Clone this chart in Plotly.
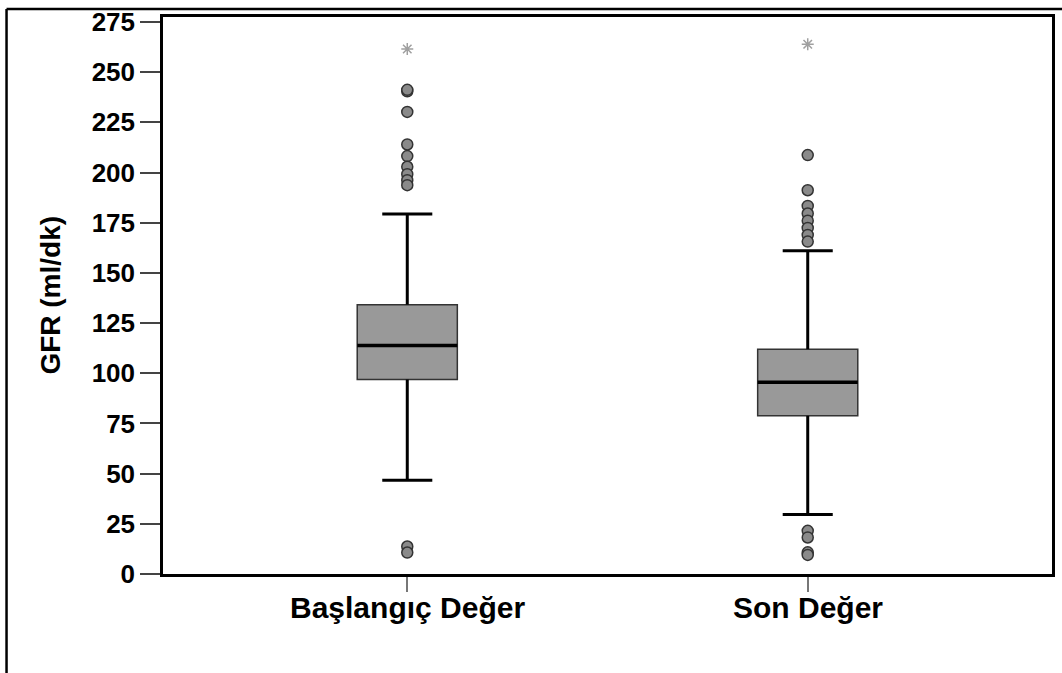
import plotly.graph_objects as go

# GFR (ml/dk) distribution, baseline vs. final
categories = ["Başlangıç Değer", "Son Değer"]
q1 = [96.9, 78.8]
median = [113.9, 95.5]
q3 = [134.2, 112.0]
lower_whisker = [46.7, 29.7]
upper_whisker = [179.4, 161.1]
outliers = [
    [240.5, 241.2, 230.2, 214.0, 208.2, 202.9, 199.2, 196.2, 193.7, 13.7, 10.7],
    [208.7, 191.2, 183.4, 179.6, 176.0, 172.4, 168.9, 165.6, 21.5, 18.2, 10.8, 9.5],
]
extremes = [[261.6], [263.9]]
y_ticks = [0, 25, 50, 75, 100, 125, 150, 175, 200, 225, 250, 275]

FONT = "Liberation Sans, Arial, sans-serif"
BOX_W = 0.25
CAP_HALF = 0.0625

fig = go.Figure()

for i, name in enumerate(categories):
    fig.add_trace(go.Box(
        x=[i], q1=[q1[i]], median=[median[i]], q3=[q3[i]],
        lowerfence=[q1[i]], upperfence=[q3[i]],
        width=BOX_W, fillcolor="#999999",
        line=dict(color="#333333", width=1.5),
        boxpoints=False, showlegend=False, name=name,
    ))
    # whiskers with caps
    fig.add_trace(go.Scatter(
        x=[i, i, None, i - CAP_HALF, i + CAP_HALF, None,
           i, i, None, i - CAP_HALF, i + CAP_HALF],
        y=[q3[i], upper_whisker[i], None, upper_whisker[i], upper_whisker[i], None,
           q1[i], lower_whisker[i], None, lower_whisker[i], lower_whisker[i]],
        mode="lines", line=dict(color="black", width=3),
        showlegend=False, hoverinfo="skip",
    ))
    # median bar
    fig.add_trace(go.Scatter(
        x=[i - BOX_W / 2, i + BOX_W / 2], y=[median[i], median[i]],
        mode="lines", line=dict(color="black", width=3.5),
        showlegend=False, hoverinfo="skip",
    ))
    # outliers
    fig.add_trace(go.Scatter(
        x=[i] * len(outliers[i]), y=outliers[i], mode="markers",
        marker=dict(symbol="circle", size=11, color="#8a8a8a",
                    line=dict(color="#333333", width=1.5)),
        showlegend=False,
    ))
    # extreme values
    fig.add_trace(go.Scatter(
        x=[i] * len(extremes[i]), y=extremes[i], mode="markers",
        marker=dict(symbol="asterisk-open", size=10, color="#a0a0a0",
                    line=dict(color="#a0a0a0", width=1.5)),
        showlegend=False,
    ))
    # category label under each box
    fig.add_annotation(
        text=name, showarrow=False, xref="x", yref="paper",
        x=i, y=-0.061, xanchor="center", yanchor="middle",
        font=dict(family=FONT, size=30, color="black", weight="bold"),
    )

fig.update_xaxes(
    range=[-0.61, 1.61], tickvals=[0, 1], showticklabels=False,
    ticks="outside", ticklen=15, tickwidth=2, tickcolor="#777777",
    showline=True, mirror=True, linewidth=2.5, linecolor="black",
    showgrid=False, zeroline=False,
)
fig.update_yaxes(
    range=[0, 277.5], tickvals=y_ticks,
    ticks="outside", ticklen=20, tickwidth=1.5, tickcolor="#444444",
    showline=True, mirror=True, linewidth=2.5, linecolor="black",
    showgrid=False, zeroline=False,
    tickfont=dict(family=FONT, size=26, color="black", weight="bold"),
)

fig.add_annotation(
    text="GFR (ml/dk)", textangle=-90, showarrow=False,
    xref="paper", yref="paper", x=-0.127, y=0.5,
    xanchor="center", yanchor="middle",
    font=dict(family=FONT, size=28, color="black", weight="bold"),
)

# outer frame lines along the top and left
fig.add_shape(type="line", xref="paper", yref="paper",
              x0=-0.176, x1=1.02, y0=1.0143, y1=1.0143,
              line=dict(color="black", width=2.5))
fig.add_shape(type="line", xref="paper", yref="paper",
              x0=-0.176, x1=-0.176, y0=1.0143, y1=-0.2,
              line=dict(color="black", width=2.5))

fig.update_layout(
    width=1062, height=673,
    margin=dict(l=163, r=7, t=14, b=99),
    plot_bgcolor="white", paper_bgcolor="white",
    showlegend=False,
)

fig.write_html("out.html")
